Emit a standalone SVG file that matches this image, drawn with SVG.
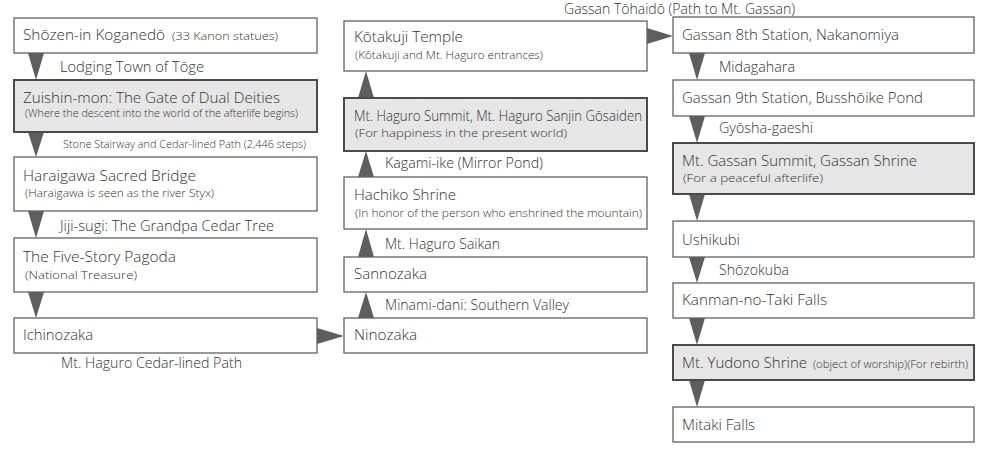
<svg xmlns="http://www.w3.org/2000/svg" width="989" height="465" viewBox="0 0 989 465">
<style>
.box{fill:#ffffff;stroke:#626262;stroke-width:1.3}
.hl{fill:#e6e6e6;stroke:#4a4a4a;stroke-width:2}
text{font-family:"Open Sans","Noto Sans","Liberation Sans",sans-serif;fill:#333333;font-weight:300}
.t{font-size:15px}
.s{font-size:11.5px}
.l{font-size:14px}
.ls{font-size:10.5px}
.arr{fill:#5e5e5e}
</style>
<rect width="989" height="465" fill="#ffffff"/>
<g id="connectors">
<polygon class="arr" points="28,53 44,53 36,80"/>
<polygon class="arr" points="28,132 44,132 36,157"/>
<polygon class="arr" points="28,211 44,211 36,238"/>
<polygon class="arr" points="28,292 44,292 36,318"/>
<polygon class="arr" points="317,328 317,344 344,336"/>
<polygon class="arr" points="358,318 374,318 366,292"/>
<polygon class="arr" points="358,257 374,257 366,229"/>
<polygon class="arr" points="358,177 374,177 366,151"/>
<polygon class="arr" points="358,98 374,98 366,71"/>
<polygon class="arr" points="647,28 647,44 673,36"/>
<polygon class="arr" points="689,53 705,53 697,80"/>
<polygon class="arr" points="689,116 705,116 697,143"/>
<polygon class="arr" points="689,194 705,194 697,221"/>
<polygon class="arr" points="689,257 705,257 697,283"/>
<polygon class="arr" points="689,318 705,318 697,345"/>
<polygon class="arr" points="689,380 705,380 697,407"/>
<text class="l" x="60" y="72" textLength="144" lengthAdjust="spacingAndGlyphs">Lodging Town of Tōge</text>
<text class="ls" x="63" y="148" textLength="243" lengthAdjust="spacingAndGlyphs">Stone Stairway and Cedar-lined Path (2,446 steps)</text>
<text class="l" x="60" y="231" textLength="214" lengthAdjust="spacingAndGlyphs">Jiji-sugi: The Grandpa Cedar Tree</text>
<text class="l" x="61" y="368" textLength="181" lengthAdjust="spacingAndGlyphs">Mt. Haguro Cedar-lined Path</text>
<text class="l" x="385" y="310" textLength="184" lengthAdjust="spacingAndGlyphs">Minami-dani: Southern Valley</text>
<text class="l" x="385" y="249" textLength="115" lengthAdjust="spacingAndGlyphs">Mt. Haguro Saikan</text>
<text class="l" x="385" y="168" textLength="158" lengthAdjust="spacingAndGlyphs">Kagami-ike (Mirror Pond)</text>
<text class="l" x="564" y="14" textLength="231" lengthAdjust="spacingAndGlyphs">Gassan Tōhaidō (Path to Mt. Gassan)</text>
<text class="l" x="719" y="72" textLength="76" lengthAdjust="spacingAndGlyphs">Midagahara</text>
<text class="l" x="719" y="133" textLength="94" lengthAdjust="spacingAndGlyphs">Gyōsha-gaeshi</text>
<text class="l" x="719" y="275" textLength="70" lengthAdjust="spacingAndGlyphs">Shōzokuba</text>
</g>
<g id="n-shozenin">
<rect class="box" x="14" y="18" width="303" height="35"/>
<text class="t" x="23" y="40" textLength="142" lengthAdjust="spacingAndGlyphs">Shōzen-in Koganedō</text>
<text class="s" x="172" y="40" textLength="106" lengthAdjust="spacingAndGlyphs">(33 Kanon statues)</text>
</g>
<g id="n-zuishinmon">
<rect class="hl" x="14" y="80" width="303" height="52"/>
<text class="t" x="23" y="103" textLength="257" lengthAdjust="spacingAndGlyphs">Zuishin-mon: The Gate of Dual Deities</text>
<text class="ls" x="25" y="117" textLength="273" lengthAdjust="spacingAndGlyphs">(Where the descent into the world of the afterlife begins)</text>
</g>
<g id="n-haraigawa">
<rect class="box" x="14" y="157" width="303" height="54"/>
<text class="t" x="23" y="181" textLength="173" lengthAdjust="spacingAndGlyphs">Haraigawa Sacred Bridge</text>
<text class="s" x="25" y="197" textLength="189" lengthAdjust="spacingAndGlyphs">(Haraigawa is seen as the river Styx)</text>
</g>
<g id="n-pagoda">
<rect class="box" x="14" y="238" width="303" height="54"/>
<text class="t" x="23" y="262" textLength="153" lengthAdjust="spacingAndGlyphs">The Five-Story Pagoda</text>
<text class="s" x="25" y="279" textLength="112" lengthAdjust="spacingAndGlyphs">(National Treasure)</text>
</g>
<g id="n-ichinozaka">
<rect class="box" x="14" y="318" width="303" height="35"/>
<text class="t" x="23" y="340" textLength="70" lengthAdjust="spacingAndGlyphs">Ichinozaka</text>
</g>
<g id="n-ninozaka">
<rect class="box" x="344" y="318" width="303" height="35"/>
<text class="t" x="354" y="340" textLength="63" lengthAdjust="spacingAndGlyphs">Ninozaka</text>
</g>
<g id="n-sannozaka">
<rect class="box" x="344" y="257" width="303" height="35"/>
<text class="t" x="354" y="279" textLength="73" lengthAdjust="spacingAndGlyphs">Sannozaka</text>
</g>
<g id="n-hachiko">
<rect class="box" x="344" y="177" width="303" height="52"/>
<text class="t" x="354" y="200" textLength="102" lengthAdjust="spacingAndGlyphs">Hachiko Shrine</text>
<text class="s" x="355" y="217" textLength="287" lengthAdjust="spacingAndGlyphs">(In honor of the person who enshrined the mountain)</text>
</g>
<g id="n-haguro-summit">
<rect class="hl" x="344" y="98" width="303" height="53"/>
<text class="l" x="354" y="121" textLength="288" lengthAdjust="spacingAndGlyphs">Mt. Haguro Summit, Mt. Haguro Sanjin Gōsaiden</text>
<text class="s" x="355" y="137" textLength="212" lengthAdjust="spacingAndGlyphs">(For happiness in the present world)</text>
</g>
<g id="n-kotakuji">
<rect class="box" x="344" y="21" width="303" height="50"/>
<text class="t" x="354" y="42" textLength="109" lengthAdjust="spacingAndGlyphs">Kōtakuji Temple</text>
<text class="s" x="355" y="59" textLength="188" lengthAdjust="spacingAndGlyphs">(Kōtakuji and Mt. Haguro entrances)</text>
</g>
<g id="n-gassan8">
<rect class="box" x="673" y="17" width="301" height="36"/>
<text class="t" x="682" y="40" textLength="217" lengthAdjust="spacingAndGlyphs">Gassan 8th Station, Nakanomiya</text>
</g>
<g id="n-gassan9">
<rect class="box" x="673" y="80" width="301" height="36"/>
<text class="t" x="682" y="103" textLength="241" lengthAdjust="spacingAndGlyphs">Gassan 9th Station, Busshōike Pond</text>
</g>
<g id="n-gassan-summit">
<rect class="hl" x="673" y="143" width="301" height="51"/>
<text class="t" x="682" y="166" textLength="235" lengthAdjust="spacingAndGlyphs">Mt. Gassan Summit, Gassan Shrine</text>
<text class="s" x="683" y="182" textLength="140" lengthAdjust="spacingAndGlyphs">(For a peaceful afterlife)</text>
</g>
<g id="n-ushikubi">
<rect class="box" x="673" y="221" width="301" height="36"/>
<text class="t" x="682" y="245" textLength="58" lengthAdjust="spacingAndGlyphs">Ushikubi</text>
</g>
<g id="n-kanman">
<rect class="box" x="673" y="283" width="301" height="35"/>
<text class="t" x="682" y="305" textLength="145" lengthAdjust="spacingAndGlyphs">Kanman-no-Taki Falls</text>
</g>
<g id="n-yudono">
<rect class="hl" x="673" y="345" width="301" height="35"/>
<text class="t" x="682" y="368" textLength="125" lengthAdjust="spacingAndGlyphs">Mt. Yudono Shrine</text>
<text class="ls" x="813" y="368" textLength="155" lengthAdjust="spacingAndGlyphs">(object of worship)(For rebirth)</text>
</g>
<g id="n-mitaki">
<rect class="box" x="673" y="407" width="301" height="35"/>
<text class="t" x="682" y="430" textLength="73" lengthAdjust="spacingAndGlyphs">Mitaki Falls</text>
</g>
</svg>
